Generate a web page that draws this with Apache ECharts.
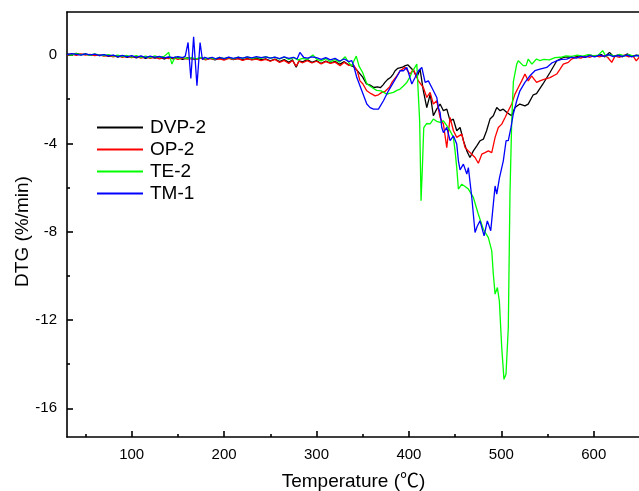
<!DOCTYPE html>
<html>
<head>
<meta charset="utf-8">
<script src="https://cdn.jsdelivr.net/npm/echarts@6/dist/echarts.min.js"></script>
<style>html,body{margin:0;padding:0;background:#fff}#c{width:639px;height:491px}</style>
</head>
<body>
<div id="c"></div>
<script>
// Series names
const seriesNames = ['DVP-2', 'OP-2', 'TE-2', 'TM-1'];
// Tick values
const xMajorTicks = [100, 200, 300, 400, 500, 600];
const xMinorTicks = [50, 150, 250, 350, 450, 550];
const yMajorTicks = [0, -4, -8, -12, -16];
const yMinorTicks = [-2, -6, -10, -14];

// [temperature (°C), DTG (%/min)]
const dvp2 = [[30,0.05],[35,0.02],[40,0.07],[45,0.02],[50,0.05],[55,-0.01],[60,0.03],[65,-0.03],[70,0.01],[75,-0.06],[80,-0.01],[85,-0.09],[90,-0.03],[95,-0.1],[100,-0.05],[105,-0.13],[110,-0.06],[115,-0.15],[120,-0.07],[125,-0.14],[130,-0.09],[135,-0.18],[140,-0.1],[145,-0.17],[150,-0.12],[155,-0.2],[160,-0.13],[165,-0.17],[170,-0.19],[175,-0.12],[180,-0.2],[185,-0.14],[190,-0.22],[195,-0.15],[200,-0.19],[205,-0.13],[210,-0.21],[215,-0.15],[220,-0.22],[225,-0.16],[230,-0.21],[235,-0.14],[240,-0.21],[245,-0.17],[250,-0.26],[255,-0.18],[260,-0.3],[265,-0.21],[270,-0.33],[274,-0.22],[278,-0.55],[281,-0.26],[285,-0.31],[290,-0.21],[295,-0.33],[300,-0.25],[305,-0.38],[310,-0.27],[315,-0.36],[320,-0.28],[325,-0.42],[330,-0.3],[335,-0.45],[340,-0.52],[345,-0.75],[350,-1.0],[354,-1.31],[358,-1.36],[362,-1.47],[366,-1.44],[369,-1.48],[372,-1.35],[374,-1.24],[377,-1.1],[380,-1.02],[383,-0.86],[385,-0.71],[388,-0.6],[390,-0.64],[393,-0.55],[396,-0.48],[399,-0.45],[401,-0.41],[405,-0.71],[408.5,-1.02],[412,-0.64],[415.6,-1.62],[419.3,-2.38],[423,-1.77],[426.4,-2.75],[430,-2.45],[433.7,-2.22],[437.3,-2.52],[441,-2.45],[444.5,-2.98],[448,-2.9],[451.7,-3.43],[455.3,-3.28],[459,-3.88],[462.6,-4.34],[466,-4.64],[469.7,-4.34],[473.4,-4.11],[477,-3.88],[480.5,-3.81],[484,-3.43],[487.7,-2.9],[491.3,-2.75],[495,-2.38],[498.6,-2.52],[502,-2.45],[506,-2.6],[511,-2.75],[514.7,-2.38],[520,-2.22],[525.5,-2.3],[529,-2.22],[534.5,-1.8],[538,-1.75],[545,-1.31],[552.6,-0.79],[560,-0.26],[567,-0.11],[572,-0.08],[578,-0.12],[584,-0.04],[590,-0.1],[596,0.0],[602,-0.06],[608,0.02],[612,-0.08],[617,0.12],[621,-0.05],[626,0.0],[631,-0.08],[636,0.05],[641,-0.06],[646,0.0],[650,-0.04]];

const op2 = [[30,0.0],[35,0.04],[40,-0.01],[45,0.05],[50,0.0],[55,0.03],[60,-0.03],[65,0.01],[70,-0.05],[75,-0.02],[80,-0.08],[85,-0.03],[90,-0.11],[95,-0.05],[100,-0.12],[105,-0.06],[110,-0.14],[115,-0.08],[120,-0.15],[125,-0.09],[130,-0.17],[135,-0.11],[140,-0.16],[145,-0.12],[150,-0.2],[155,-0.14],[160,-0.18],[165,-0.15],[170,-0.2],[175,-0.14],[180,-0.22],[185,-0.16],[190,-0.2],[195,-0.17],[200,-0.23],[205,-0.15],[210,-0.2],[215,-0.16],[220,-0.24],[225,-0.17],[230,-0.22],[235,-0.18],[240,-0.25],[245,-0.2],[250,-0.28],[255,-0.2],[260,-0.33],[265,-0.24],[270,-0.38],[274,-0.25],[278,-0.5],[281,-0.28],[285,-0.35],[290,-0.25],[295,-0.36],[300,-0.28],[305,-0.4],[310,-0.3],[315,-0.38],[320,-0.32],[325.6,-0.48],[330,-0.33],[335,-0.47],[340,-0.45],[344,-0.7],[347,-1.17],[350,-1.3],[354.4,-1.62],[359,-1.75],[363.4,-1.85],[367,-1.8],[370.6,-1.69],[374,-1.65],[376,-1.62],[379,-1.45],[381.5,-1.24],[384,-1.1],[386.9,-0.94],[390.4,-0.71],[392.3,-0.71],[395.8,-0.56],[397.7,-0.6],[401.2,-0.86],[404.8,-0.64],[410.2,-1.17],[415.6,-1.47],[419.3,-1.92],[422.9,-1.69],[426.4,-2.22],[430.1,-2.07],[433.7,-2.83],[437.3,-3.13],[440.9,-4.19],[444.5,-2.83],[448.1,-3.43],[451.7,-3.73],[457.2,-3.58],[460.7,-4.19],[464.3,-4.34],[468,-4.49],[471.5,-4.64],[475.1,-4.9],[478.8,-4.49],[482.3,-4.42],[485.9,-4.34],[489.6,-4.42],[493.2,-3.73],[496.7,-3.28],[500.4,-3.13],[504,-2.83],[507.5,-2.52],[511.2,-2.22],[514.7,-1.77],[518.3,-1.47],[522,-1.17],[525.5,-0.86],[529.1,-1.17],[532.7,-0.94],[538.1,-1.24],[541.7,-1.17],[546,-1.1],[552.6,-1.02],[559.9,-0.86],[563.5,-0.64],[567,-0.41],[572.4,-0.33],[576,-0.18],[581,-0.1],[586,-0.14],[591,-0.05],[596,-0.1],[601,-0.02],[606,-0.08],[611,-0.03],[615,-0.1],[619.4,-0.33],[623,-0.05],[628,-0.1],[633,0.0],[638,-0.08],[642,-0.02],[646,-0.26],[650,-0.05]];

const te2 = [[30,0.03],[35,0.0],[40,0.06],[45,0.01],[50,0.04],[55,-0.02],[60,0.05],[65,0.0],[70,-0.03],[75,0.02],[80,-0.05],[85,0.0],[90,-0.07],[95,-0.02],[100,-0.09],[105,-0.03],[110,-0.11],[115,-0.05],[120,-0.12],[125,-0.04],[130,-0.1],[135,-0.06],[140,0.12],[143.5,-0.41],[147,-0.08],[150,-0.15],[155,-0.1],[160,-0.16],[165,-0.12],[170,-0.17],[175,-0.11],[180,-0.19],[185,-0.12],[190,-0.18],[195,-0.1],[200,-0.16],[205,-0.11],[210,-0.17],[215,-0.09],[220,-0.15],[225,-0.08],[230,-0.16],[235,-0.1],[240,-0.15],[245,-0.07],[250,-0.14],[255,-0.1],[260,-0.18],[265,-0.09],[270,-0.2],[275,-0.12],[280,-0.22],[285,-0.15],[290,-0.2],[296,0.0],[300,-0.18],[305,-0.26],[310,-0.16],[315,-0.3],[320,-0.2],[325,-0.32],[331,-0.08],[335,-0.35],[338,-0.5],[340,-0.3],[343,-0.05],[346,-0.5],[350,-0.8],[354.4,-1.3],[360,-1.47],[365,-1.6],[370,-1.62],[376,-1.77],[380,-1.72],[383.2,-1.69],[387,-1.6],[390.4,-1.54],[394,-1.4],[397.7,-1.24],[401,-1.0],[403.1,-0.79],[406.6,-0.55],[408.5,-0.41],[410.2,-0.45],[411.6,-3.0],[413.1,-6.6],[414.6,-5.0],[416,-3.3],[417.5,-3.2],[419.3,-3.1],[422.9,-3.12],[426.4,-2.9],[430,-3.0],[433.7,-3.05],[437.3,-2.98],[440.9,-3.2],[444.5,-3.43],[448.1,-3.73],[449.9,-4.34],[451.7,-5.1],[453.5,-6.07],[457.2,-5.85],[460.7,-5.95],[464.3,-6.07],[469.7,-6.45],[475,-7.2],[480.5,-7.89],[485.9,-8.27],[489.6,-8.87],[491.3,-9.93],[493.2,-10.83],[495.7,-10.53],[497.8,-11.14],[500.4,-13.25],[502.8,-14.69],[505,-14.46],[507.5,-12.35],[509.3,-6.3],[511.2,-3.0],[513,-1.2],[516.6,-0.41],[518.3,-0.26],[520,-0.33],[523.7,-0.48],[526.7,-0.48],[529.1,-0.18],[533,-0.41],[538,-0.18],[541.7,-0.25],[546,-0.2],[552,-0.22],[558,-0.12],[564,-0.1],[570,-0.04],[576,-0.06],[582,0.0],[588,-0.05],[594,0.02],[600,-0.04],[605,0.0],[609.6,0.2],[613,-0.05],[618,0.02],[623,-0.06],[628,0.03],[633,-0.04],[638,0.02],[643,-0.05],[650,0.0]];

const tm1 = [[30,0.02],[35,0.06],[40,0.03],[45,0.0],[50,0.05],[55,0.01],[60,0.04],[65,-0.02],[70,0.02],[75,-0.04],[80,0.0],[85,-0.07],[90,-0.02],[95,-0.08],[100,-0.03],[105,-0.1],[110,-0.04],[115,-0.12],[120,-0.05],[125,-0.11],[130,-0.06],[135,-0.13],[140,-0.08],[145,-0.12],[150,-0.07],[155,-0.12],[158,-0.05],[161,0.57],[164,-1.06],[167,0.83],[170.6,-1.39],[174,0.57],[176.5,-0.2],[179,-0.1],[183,-0.16],[187,-0.1],[191,-0.17],[195,-0.11],[200,-0.16],[205,-0.09],[210,-0.15],[215,-0.1],[220,-0.14],[225,-0.08],[230,-0.13],[235,-0.07],[240,-0.12],[245,-0.08],[250,-0.14],[255,-0.09],[260,-0.16],[265,-0.08],[270,-0.15],[275,-0.1],[279,-0.18],[282,0.12],[286,-0.1],[290,-0.14],[295,-0.08],[300,-0.12],[305,-0.2],[310,-0.12],[315,-0.22],[320,-0.15],[325,-0.27],[330,-0.18],[335,-0.3],[338,-0.25],[340,-0.45],[343.6,-1.02],[349,-1.62],[354.4,-2.22],[358,-2.38],[361.6,-2.45],[367,-2.45],[372.4,-2.07],[377.8,-1.62],[383.2,-1.24],[388.6,-0.86],[390.4,-0.71],[394,-0.71],[397.7,-0.56],[399.4,-0.56],[403.1,-1.31],[406.6,-1.02],[410.2,-0.71],[413.9,-0.56],[417.5,-1.24],[421,-1.17],[424.7,-1.47],[430.1,-1.92],[431.9,-2.38],[433.7,-2.6],[435.5,-3.28],[437.3,-3.51],[440.9,-3.28],[444.5,-3.88],[448.1,-3.66],[451.7,-4.03],[453.5,-4.79],[455.3,-5.2],[458.9,-4.94],[460.7,-4.94],[462.6,-5.39],[464.3,-5.1],[468,-6.45],[471.5,-8.04],[474,-7.74],[476.9,-7.51],[481.3,-8.19],[484.8,-7.51],[488.5,-7.96],[491.3,-6.75],[493.2,-5.93],[495,-6.3],[498,-5.55],[502.1,-4.79],[505.1,-3.88],[507.5,-3.88],[510.4,-3.28],[512.9,-2.67],[516.6,-2.07],[520.1,-1.62],[525.5,-1.24],[530.9,-0.94],[536.3,-0.71],[541.7,-0.64],[549.1,-0.56],[555,-0.35],[559.9,-0.26],[565,-0.2],[570.7,-0.18],[576,-0.1],[581,-0.14],[586,-0.06],[591,-0.1],[596,-0.03],[601,-0.08],[606,0.0],[611,-0.06],[616,0.02],[621,-0.07],[626,-0.02],[631,-0.06],[636,0.0],[641,-0.08],[646,-0.02],[650,-0.05]];

const seriesData = [dvp2, op2, te2, tm1];
const colors = ['#000000', '#ff0000', '#00ff00', '#0000ff'];

const FONT = '"Liberation Sans", Arial, "Noto Sans CJK SC", sans-serif';
const X_MIN = 30, X_MAX = 650, Y_MIN = -17.3, Y_MAX = 1.95;
const lineStyle = { color: '#000', width: 1.6 };

const chart = echarts.init(document.getElementById('c'), null, { renderer: 'canvas' });
chart.setOption({
  animation: false,
  backgroundColor: '#fff',
  grid: { left: 67, top: 12, width: 573, height: 425, containLabel: false, outerBoundsMode: 'none' },
  legend: {
    orient: 'vertical', left: 97, top: 118, padding: 0,
    itemWidth: 46, itemHeight: 2, itemGap: 3, icon: 'rect',
    textStyle: { fontSize: 19, fontFamily: FONT, color: '#000', lineHeight: 19, padding: [0, 0, 0, 2] },
    data: seriesNames
  },
  xAxis: [
    {
      type: 'value', min: X_MIN, max: X_MAX, position: 'bottom',
      name: 'Temperature (℃)', nameLocation: 'middle', nameGap: 35, nameMoveOverlap: false,
      nameTextStyle: { fontSize: 19, fontFamily: FONT, color: '#000' },
      axisLine: { show: true, onZero: false, lineStyle: lineStyle },
      axisTick: { show: true, inside: true, length: 6, lineStyle: lineStyle, customValues: xMajorTicks },
      axisLabel: { show: true, margin: 10, fontSize: 15, fontFamily: FONT, color: '#000', customValues: xMajorTicks },
      splitLine: { show: false }
    },
    {
      type: 'value', min: X_MIN, max: X_MAX, position: 'bottom',
      axisLine: { show: false, onZero: false },
      axisTick: { show: true, inside: true, length: 3, lineStyle: lineStyle, customValues: xMinorTicks },
      axisLabel: { show: false },
      splitLine: { show: false }
    },
    {
      type: 'value', min: X_MIN, max: X_MAX, position: 'top',
      axisLine: { show: true, onZero: false, lineStyle: lineStyle },
      axisTick: { show: false }, axisLabel: { show: false }, splitLine: { show: false }
    }
  ],
  yAxis: [
    {
      type: 'value', min: Y_MIN, max: Y_MAX, position: 'left',
      name: 'DTG (%/min)', nameLocation: 'middle', nameGap: 35, nameMoveOverlap: false,
      nameTextStyle: { fontSize: 19, fontFamily: FONT, color: '#000', padding: [0, 14, 0, 0] },
      axisLine: { show: true, onZero: false, lineStyle: lineStyle },
      axisTick: { show: true, inside: true, length: 6, lineStyle: lineStyle, customValues: yMajorTicks },
      axisLabel: { show: true, margin: 10, fontSize: 15, fontFamily: FONT, color: '#000', customValues: yMajorTicks },
      splitLine: { show: false }
    },
    {
      type: 'value', min: Y_MIN, max: Y_MAX, position: 'left',
      axisLine: { show: false, onZero: false },
      axisTick: { show: true, inside: true, length: 3, lineStyle: lineStyle, customValues: yMinorTicks },
      axisLabel: { show: false },
      splitLine: { show: false }
    },
    {
      type: 'value', min: Y_MIN, max: Y_MAX, position: 'right',
      axisLine: { show: true, onZero: false, lineStyle: lineStyle },
      axisTick: { show: false }, axisLabel: { show: false }, splitLine: { show: false }
    }
  ],
  series: seriesNames.map((name, i) => ({
    name: name,
    type: 'line',
    xAxisIndex: 0,
    yAxisIndex: 0,
    data: seriesData[i],
    showSymbol: false,
    symbol: 'none',
    smooth: false,
    lineStyle: { color: colors[i], width: 1.3 },
    itemStyle: { color: colors[i] },
    emphasis: { disabled: true }
  }))
});
</script>
</body>
</html>
